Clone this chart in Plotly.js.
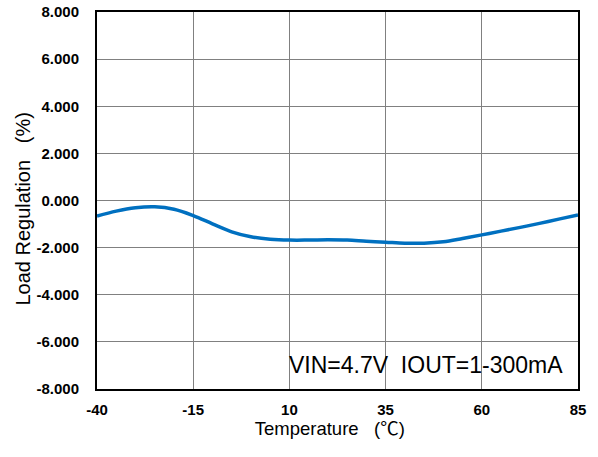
<!DOCTYPE html>
<html>
<head>
<meta charset="utf-8">
<script src="https://cdn.plot.ly/plotly-3.0.1.min.js"></script>
<style>html,body{margin:0;padding:0;background:#fff;}#chart{width:598px;height:457px;}</style>
</head>
<body>
<div id="chart"></div>
<script>
const temperature = [-40, -35, -30, -25, -20, -15, -10, -5, 0, 5, 10, 15, 20, 25, 30, 35, 40, 45, 50, 55, 60, 65, 70, 75, 80, 85];
const loadRegulation = [-0.66, -0.45, -0.31, -0.27, -0.37, -0.64, -0.99, -1.33, -1.54, -1.64, -1.68, -1.68, -1.67, -1.68, -1.73, -1.77, -1.81, -1.81, -1.75, -1.61, -1.46, -1.30, -1.14, -0.97, -0.79, -0.61];
const xTickVals = [-40, -15, 10, 35, 60, 85];
const xTickText = ["-40", "-15", "10", "35", "60", "85"];
const yTickVals = [-8, -6, -4, -2, 0, 2, 4, 6, 8];
const yTickText = ["-8.000", "-6.000", "-4.000", "-2.000", "0.000", "2.000", "4.000", "6.000", "8.000"];
const xTitle = "Temperature&nbsp;&nbsp;&nbsp;(℃)&nbsp;&nbsp;&nbsp;";
const yTitle = "Load Regulation&nbsp;&nbsp;&nbsp;(%)&nbsp;&nbsp;&nbsp;";
const noteText = "VIN=4.7V&nbsp;&nbsp;IOUT=1-300mA";

const FONT = "Liberation Sans, Arial, Noto Sans CJK SC, sans-serif";

const trace = {
  x: temperature,
  y: loadRegulation,
  type: "scatter",
  mode: "lines",
  line: {color: "#0070C0", width: 3.5, shape: "spline", smoothing: 1},
  hoverinfo: "skip"
};

const layout = {
  width: 598,
  height: 457,
  margin: {l: 97, r: 20, t: 12, b: 68},
  paper_bgcolor: "#ffffff",
  plot_bgcolor: "#ffffff",
  showlegend: false,
  font: {family: FONT, color: "#000"},
  xaxis: {
    range: [-40, 85],
    tickvals: xTickVals,
    ticktext: xTickText,
    tickfont: {family: FONT, size: 15, color: "#000", weight: "bold"},
    showgrid: true,
    gridcolor: "#808080",
    gridwidth: 1,
    zeroline: false,
    showline: true,
    linecolor: "#000",
    linewidth: 2,
    mirror: true,
    ticks: "",
    ticklabelstandoff: 6,
    automargin: false,
    title: {text: xTitle, font: {family: FONT, size: 18.5, color: "#000"}, standoff: 5}
  },
  yaxis: {
    range: [-8, 8],
    tickvals: yTickVals,
    ticktext: yTickText,
    tickfont: {family: FONT, size: 15, color: "#000", weight: "bold"},
    showgrid: true,
    gridcolor: "#808080",
    gridwidth: 1,
    zeroline: false,
    showline: true,
    linecolor: "#000",
    linewidth: 2,
    mirror: true,
    ticks: "",
    ticklabelstandoff: 13,
    automargin: false,
    title: {text: yTitle, font: {family: FONT, size: 20, color: "#000"}, standoff: 0}
  },
  annotations: [{
    text: noteText,
    xref: "paper", yref: "paper",
    x: 0.972, y: 0.064,
    xanchor: "right", yanchor: "middle",
    showarrow: false,
    font: {family: FONT, size: 23, color: "#000"}
  }]
};

Plotly.newPlot("chart", [trace], layout, {staticPlot: true, displayModeBar: false});
</script>
</body>
</html>
